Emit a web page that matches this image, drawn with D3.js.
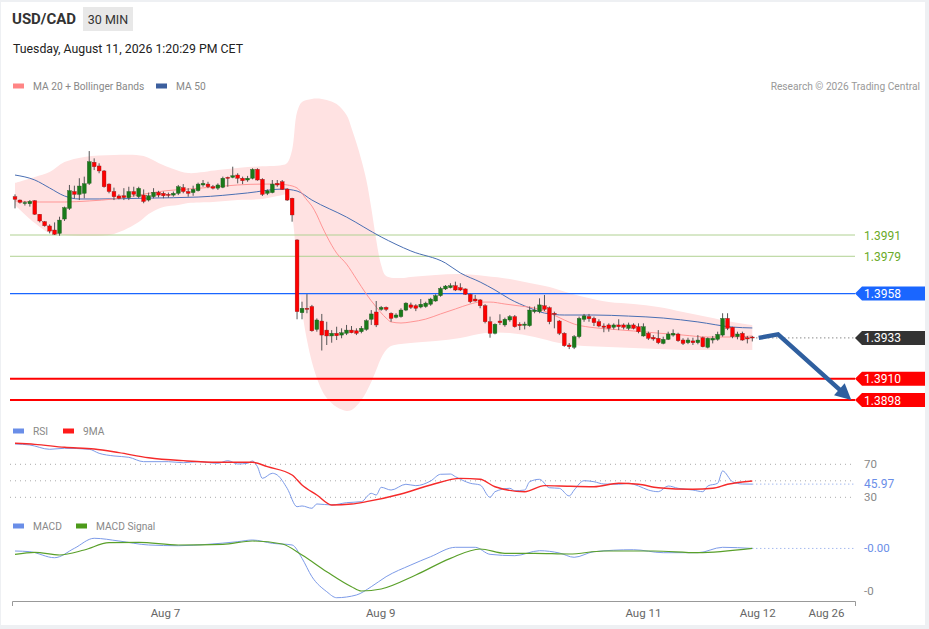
<!DOCTYPE html>
<html>
<head>
<meta charset="utf-8">
<script src="https://cdn.jsdelivr.net/npm/d3@7"></script>
<style>
  body { margin: 0; background: #eef0f3; }
  svg { display: block; }
</style>
</head>
<body>
<svg id="chart" width="929" height="629"></svg>
<script>
// 30 min candles, [open, high, low, close]
const candles = [
  [1.40126,1.40139,1.40060,1.40111],[1.40107,1.40110,1.40087,1.40094],[1.40090,1.40102,1.40076,1.40093],
  [1.40086,1.40107,1.40070,1.40099],[1.40103,1.40107,1.40023,1.40027],[1.40027,1.40028,1.39981,1.39989],
  [1.39985,1.39989,1.39957,1.39962],[1.39961,1.39970,1.39919,1.39932],[1.39938,1.39981,1.39910,1.39914],
  [1.39919,1.40013,1.39906,1.39994],[1.40000,1.40070,1.39989,1.40064],[1.40060,1.40192,1.40051,1.40160],
  [1.40155,1.40188,1.40117,1.40139],[1.40139,1.40230,1.40107,1.40186],[1.40145,1.40239,1.40117,1.40199],
  [1.40201,1.40383,1.40192,1.40323],[1.40320,1.40342,1.40276,1.40295],[1.40299,1.40314,1.40258,1.40271],
  [1.40271,1.40276,1.40177,1.40182],[1.40197,1.40201,1.40145,1.40155],[1.40155,1.40177,1.40107,1.40126],
  [1.40130,1.40139,1.40111,1.40117],[1.40131,1.40174,1.40107,1.40122],[1.40120,1.40182,1.40107,1.40155],
  [1.40155,1.40182,1.40126,1.40139],[1.40126,1.40182,1.40117,1.40173],[1.40135,1.40167,1.40089,1.40099],
  [1.40107,1.40149,1.40099,1.40131],[1.40126,1.40174,1.40117,1.40151],[1.40151,1.40159,1.40122,1.40135],
  [1.40145,1.40155,1.40117,1.40131],[1.40139,1.40149,1.40120,1.40135],[1.40135,1.40155,1.40126,1.40145],
  [1.40145,1.40192,1.40135,1.40182],[1.40177,1.40197,1.40145,1.40155],[1.40155,1.40174,1.40126,1.40145],
  [1.40149,1.40188,1.40131,1.40167],[1.40160,1.40205,1.40155,1.40197],[1.40192,1.40220,1.40182,1.40201],
  [1.40197,1.40210,1.40174,1.40182],[1.40182,1.40192,1.40167,1.40174],[1.40174,1.40201,1.40164,1.40192],
  [1.40179,1.40239,1.40174,1.40230],[1.40235,1.40239,1.40182,1.40230],[1.40235,1.40295,1.40230,1.40244],
  [1.40248,1.40258,1.40201,1.40230],[1.40230,1.40239,1.40197,1.40216],[1.40220,1.40243,1.40210,1.40230],
  [1.40230,1.40286,1.40224,1.40280],[1.40280,1.40286,1.40216,1.40220],[1.40224,1.40230,1.40130,1.40139],
  [1.40145,1.40167,1.40135,1.40159],[1.40149,1.40220,1.40145,1.40197],[1.40201,1.40220,1.40182,1.40192],
  [1.40210,1.40220,1.40164,1.40167],[1.40169,1.40174,1.40102,1.40107],[1.40117,1.40120,1.39985,1.40023],
  [1.39882,1.39886,1.39435,1.39478],[1.39472,1.39534,1.39435,1.39497],[1.39497,1.39577,1.39469,1.39491],
  [1.39507,1.39516,1.39365,1.39370],[1.39378,1.39440,1.39365,1.39431],[1.39425,1.39465,1.39259,1.39346],
  [1.39374,1.39421,1.39290,1.39341],[1.39341,1.39374,1.39303,1.39356],[1.39356,1.39393,1.39318,1.39342],
  [1.39346,1.39384,1.39328,1.39359],[1.39356,1.39403,1.39346,1.39374],[1.39374,1.39397,1.39356,1.39359],
  [1.39370,1.39384,1.39346,1.39356],[1.39365,1.39397,1.39356,1.39384],[1.39378,1.39435,1.39370,1.39427],
  [1.39435,1.39487,1.39403,1.39465],[1.39476,1.39538,1.39391,1.39403],[1.39491,1.39510,1.39483,1.39502],
  [1.39502,1.39507,1.39481,1.39491],[1.39469,1.39474,1.39421,1.39440],[1.39446,1.39469,1.39440,1.39459],
  [1.39450,1.39497,1.39444,1.39487],[1.39487,1.39531,1.39481,1.39526],[1.39516,1.39529,1.39493,1.39502],
  [1.39511,1.39520,1.39481,1.39497],[1.39504,1.39549,1.39497,1.39520],[1.39507,1.39534,1.39500,1.39526],
  [1.39520,1.39556,1.39511,1.39549],[1.39538,1.39576,1.39534,1.39568],[1.39568,1.39618,1.39562,1.39609],
  [1.39606,1.39628,1.39600,1.39622],[1.39613,1.39638,1.39609,1.39624],[1.39624,1.39647,1.39594,1.39600],
  [1.39613,1.39638,1.39594,1.39600],[1.39606,1.39609,1.39572,1.39576],[1.39576,1.39581,1.39526,1.39534],
  [1.39549,1.39572,1.39534,1.39538],[1.39544,1.39549,1.39497,1.39511],[1.39511,1.39520,1.39412,1.39421],
  [1.39421,1.39450,1.39331,1.39356],[1.39356,1.39412,1.39350,1.39407],[1.39425,1.39463,1.39403,1.39416],
  [1.39403,1.39444,1.39393,1.39435],[1.39431,1.39459,1.39421,1.39450],[1.39450,1.39459,1.39388,1.39393],
  [1.39407,1.39418,1.39374,1.39399],[1.39401,1.39421,1.39378,1.39408],[1.39399,1.39507,1.39393,1.39487],
  [1.39478,1.39507,1.39469,1.39487],[1.39478,1.39553,1.39469,1.39516],[1.39511,1.39572,1.39481,1.39491],
  [1.39500,1.39507,1.39407,1.39421],[1.39469,1.39478,1.39384,1.39463],[1.39425,1.39431,1.39346,1.39356],
  [1.39356,1.39362,1.39280,1.39286],[1.39290,1.39301,1.39267,1.39280],[1.39277,1.39346,1.39267,1.39337],
  [1.39337,1.39450,1.39328,1.39440],[1.39435,1.39465,1.39421,1.39454],[1.39450,1.39465,1.39421,1.39438],
  [1.39440,1.39450,1.39397,1.39416],[1.39421,1.39435,1.39390,1.39397],[1.39397,1.39412,1.39362,1.39390],
  [1.39403,1.39412,1.39365,1.39384],[1.39390,1.39412,1.39378,1.39403],[1.39403,1.39435,1.39374,1.39393],
  [1.39403,1.39412,1.39378,1.39390],[1.39384,1.39416,1.39374,1.39403],[1.39403,1.39412,1.39378,1.39384],
  [1.39393,1.39412,1.39356,1.39365],[1.39341,1.39412,1.39337,1.39393],[1.39356,1.39365,1.39318,1.39328],
  [1.39333,1.39346,1.39314,1.39324],[1.39328,1.39374,1.39295,1.39303],[1.39299,1.39337,1.39294,1.39322],
  [1.39322,1.39365,1.39318,1.39352],[1.39346,1.39378,1.39337,1.39356],[1.39352,1.39359,1.39308,1.39314],
  [1.39318,1.39328,1.39290,1.39299],[1.39303,1.39331,1.39295,1.39318],[1.39313,1.39331,1.39290,1.39303],
  [1.39303,1.39346,1.39294,1.39318],[1.39331,1.39337,1.39277,1.39280],[1.39277,1.39333,1.39271,1.39328],
  [1.39318,1.39341,1.39299,1.39328],[1.39322,1.39365,1.39314,1.39350],[1.39346,1.39469,1.39337,1.39440],
  [1.39440,1.39469,1.39374,1.39384],[1.39390,1.39393,1.39328,1.39337],[1.39337,1.39365,1.39322,1.39352],
  [1.39356,1.39365,1.39314,1.39318],[1.39331,1.39341,1.39299,1.39324],[1.39335,1.39341,1.39310,1.39330]
];

// indicator readings, [candle index, value]
const bbUpper = [[0,1.40203],[4,1.40237],[7,1.40265],[10,1.40321],[14,1.40350],[20,1.40361],[26,1.40355],[29,1.40316],[32,1.40282],[35,1.40259],[41,1.40276],[47,1.40293],[54,1.40304],[55,1.40316],[56,1.40389],[57,1.40603],[58,1.40660],[60,1.40677],[62,1.40677],[63,1.40671],[65,1.40648],[67,1.40586],[68,1.40513],[69,1.40428],[70,1.40333],[71,1.40220],[72,1.40062],[73,1.39882],[74,1.39741],[75,1.39679],[78,1.39667],[80,1.39673],[85,1.39684],[90,1.39690],[95,1.39679],[100,1.39662],[104,1.39639],[108,1.39617],[110,1.39600],[112,1.39583],[115,1.39560],[120,1.39532],[125,1.39521],[130,1.39504],[135,1.39476],[140,1.39448],[145,1.39419],[149,1.39402]];
const bbLower = [[0,1.40079],[4,1.39977],[7,1.39921],[10,1.39910],[15,1.39904],[20,1.39916],[25,1.39983],[27,1.40028],[30,1.40068],[33,1.40079],[35,1.40090],[40,1.40096],[45,1.40107],[50,1.40113],[53,1.40130],[55,1.40135],[56,1.40023],[57,1.39741],[58,1.39487],[59,1.39318],[60,1.39194],[61,1.39104],[62,1.39036],[63,1.38991],[65,1.38940],[67,1.38918],[68,1.38924],[69,1.38946],[70,1.38980],[71,1.39025],[72,1.39081],[73,1.39149],[74,1.39217],[75,1.39262],[76,1.39284],[78,1.39295],[80,1.39301],[85,1.39312],[90,1.39329],[95,1.39357],[100,1.39357],[105,1.39335],[110,1.39301],[115,1.39284],[120,1.39279],[125,1.39273],[130,1.39267],[135,1.39262],[140,1.39262],[145,1.39262],[149,1.39262]];
const ma20 = [[0,1.40102],[5,1.40096],[10,1.40096],[15,1.40102],[20,1.40113],[25,1.40135],[30,1.40158],[35,1.40169],[40,1.40180],[45,1.40192],[50,1.40197],[53,1.40197],[55,1.40192],[57,1.40175],[59,1.40107],[60,1.40073],[61,1.40023],[62,1.39961],[63,1.39904],[65,1.39808],[67,1.39746],[69,1.39662],[71,1.39577],[73,1.39504],[75,1.39442],[76,1.39420],[78,1.39414],[80,1.39420],[83,1.39436],[86,1.39465],[89,1.39493],[92,1.39521],[94,1.39532],[96,1.39532],[99,1.39521],[102,1.39510],[105,1.39498],[108,1.39470],[111,1.39431],[113,1.39408],[116,1.39391],[120,1.39380],[125,1.39369],[130,1.39357],[135,1.39346],[140,1.39335],[145,1.39335],[149,1.39341]];
const ma50 = [[0,1.40248],[4,1.40220],[7,1.40175],[10,1.40130],[13,1.40113],[17,1.40113],[27,1.40118],[37,1.40124],[47,1.40147],[54,1.40169],[57,1.40158],[60,1.40107],[67,1.40011],[74,1.39899],[80,1.39820],[87,1.39752],[90,1.39696],[94,1.39645],[97,1.39600],[100,1.39549],[104,1.39499],[107,1.39470],[111,1.39459],[117,1.39459],[124,1.39453],[131,1.39442],[138,1.39420],[145,1.39391],[149,1.39386]];

const rsi = [[0,94.6],[3,93.4],[7,88.2],[10,89.4],[15,88.2],[17,83.3],[20,80.1],[23,78.5],[26,73.2],[31,73.2],[34,71.9],[37,73.2],[41,71.2],[43,74.4],[45,70.4],[47,71.2],[48,74.0],[49,67.1],[50,53.0],[52,59.1],[53,57.0],[55,40.9],[57,18.6],[58,19.5],[60,16.7],[61,21.9],[64,20.7],[67,23.5],[70,24.7],[72,34.8],[73,32.8],[74,42.1],[76,38.8],[79,45.8],[81,44.1],[84,49.8],[86,57.9],[88,58.2],[89,55.0],[92,47.0],[94,44.9],[96,30.0],[97,36.8],[100,40.9],[101,38.0],[103,38.8],[104,48.9],[106,51.8],[108,41.6],[110,40.9],[112,31.6],[113,38.8],[115,50.1],[117,48.9],[119,46.1],[122,45.8],[124,47.0],[126,43.7],[128,38.8],[130,36.8],[132,43.7],[134,40.9],[137,38.8],[139,36.8],[140,43.7],[142,47.0],[143,61.9],[145,48.9],[147,46.1],[149,45.97]];
const rsiMa9 = [[0,95.5],[4,94.2],[10,90.6],[16,88.5],[21,84.1],[27,78.0],[34,74.4],[41,72.4],[48,72.4],[51,67.1],[56,57.0],[58,44.9],[61,32.8],[64,20.7],[68,21.9],[71,24.7],[78,34.0],[84,44.9],[90,53.0],[94,51.8],[97,42.8],[103,36.8],[107,44.1],[110,43.7],[117,42.8],[122,47.0],[126,45.8],[130,41.6],[137,39.7],[141,40.9],[144,45.8],[149,49.8]];
const macd = [[0,-0.00007],[3,-0.000086],[8,-0.000226],[12,-0.000007],[16,0.000226],[21,0.000163],[27,0.00007],[33,0.000053],[39,0.000086],[45,0.000147],[48,0.000186],[52,0.000109],[56,0.00007],[58,-0.00024],[60,-0.000667],[63,-0.001016],[65,-0.001156],[69,-0.001093],[72,-0.0009],[75,-0.000667],[80,-0.000395],[84,-0.000202],[89,0.000016],[93,0.000016],[96,-0.000147],[101,-0.000179],[106,-0.000063],[110,-0.000116],[113,-0.000216],[117,-0.000086],[125,-0.00004],[131,-0.000109],[138,-0.000109],[143,0.000016],[149,-0.00001]];
const macdSignal = [[0,-0.000147],[4,-0.0001],[9,-0.000163],[14,-0.000047],[19,0.000123],[25,0.000133],[33,0.00007],[42,0.000086],[48,0.000163],[54,0.000093],[58,-0.000163],[63,-0.000551],[68,-0.0009],[70,-0.001],[74,-0.000953],[81,-0.000628],[88,-0.00024],[94,-0.000023],[99,-0.000123],[105,-0.000123],[112,-0.00014],[119,-0.00007],[129,-0.00007],[138,-0.000109],[149,-0.00001]];

const resistLevels = [1.3991, 1.3979];
const pivotLevel = 1.3958;
const supportLevels = [1.3910, 1.3898];
const lastPrice = 1.3933;
const arrowPath = [[150.3, 1.3933], [154.2, 1.3935], [169.0, 1.3898]];
const rsiGuides = [70, 50, 30];
const rsiAxisLabels = [70, 30];
const macdAxisLabels = [-0.001];
const dateTicks = [30.3, 73.8, 126.9, 150, 163.9];
const dateLabels = ["Aug 7", "Aug 9", "Aug 11", "Aug 12", "Aug 26"];

const font = "Roboto, 'Liberation Sans', Arial, sans-serif";
const svg = d3.select("#chart").attr("font-family", font);

// card
svg.append("rect").attr("x", 1).attr("y", 2).attr("width", 924).attr("height", 623).attr("fill", "#fff");

// header
svg.append("text").attr("x", 12).attr("y", 24).attr("font-size", 15).attr("font-weight", "bold")
  .attr("fill", "#333").text("USD/CAD");
svg.append("rect").attr("x", 83).attr("y", 7).attr("width", 50).attr("height", 24).attr("fill", "#e8e8e8");
svg.append("text").attr("x", 108).attr("y", 23.5).attr("text-anchor", "middle").attr("font-size", 12.5)
  .attr("fill", "#333").text("30 MIN");
svg.append("text").attr("x", 13).attr("y", 53).attr("font-size", 12.3).attr("fill", "#222")
  .text("Tuesday, August 11, 2026 1:20:29 PM CET");

function legendItem(x0, yc, color, label) {
  svg.append("rect").attr("x", x0).attr("y", yc - 2.5).attr("width", 11).attr("height", 5).attr("fill", color);
  svg.append("text").attr("x", x0 + 20).attr("y", yc + 3.6).attr("font-size", 10.2).attr("fill", "#888").text(label);
}
legendItem(13, 86, "#ff8585", "MA 20 + Bollinger Bands");
legendItem(156, 86, "#3c5f9e", "MA 50");
svg.append("text").attr("x", 920).attr("y", 89.6).attr("text-anchor", "end").attr("font-size", 10.2)
  .attr("fill", "#999").text("Research \u00a9 2026 Trading Central");

// scales
let x = d3.scaleLinear().domain([0, 149]).range([15, 752.3]);
let y = d3.scaleLinear().domain([1.3898, 1.3991]).range([400, 235]);
let yRsi = d3.scaleLinear().domain([30, 70]).range([497.3, 464.3]);
let yMacd = d3.scaleLinear().domain([-0.001, 0]).range([591, 548]);
const left = 10, right = 855;

// bollinger band
let edge = d3.line().x(d => x(d[0])).y(d => y(d[1])).curve(d3.curveCatmullRom.alpha(0.5));
let bandD = edge(bbUpper) + "L" + edge(bbLower.slice().reverse()).substring(1) + "Z";
svg.append("path").attr("d", bandD).attr("fill", "#ffe2e2");

// level lines
let levels = svg.append("g");
resistLevels.forEach(v => {
  levels.append("line").attr("x1", left).attr("x2", right).attr("y1", y(v)).attr("y2", y(v))
    .attr("stroke", "#b0d192").attr("stroke-width", 1);
  levels.append("text").attr("x", 864).attr("y", y(v) + 4.5).attr("font-size", 12)
    .attr("fill", "#6aaa28").text(v.toFixed(4));
});
levels.append("line").attr("x1", left).attr("x2", right).attr("y1", y(pivotLevel)).attr("y2", y(pivotLevel))
  .attr("stroke", "#1a66ff").attr("stroke-width", 1.3);
supportLevels.forEach(v => {
  levels.append("line").attr("x1", left).attr("x2", right).attr("y1", y(v)).attr("y2", y(v))
    .attr("stroke", "#ff0000").attr("stroke-width", 2);
});

// moving averages
let maLine = d3.line().x(d => x(d[0])).y(d => y(d[1])).curve(d3.curveMonotoneX);
svg.append("path").attr("d", maLine(ma50)).attr("fill", "none").attr("stroke", "#4a6fb3").attr("stroke-width", 1);
svg.append("path").attr("d", maLine(ma20)).attr("fill", "none").attr("stroke", "#ff9595").attr("stroke-width", 1);

// candles
let cg = svg.append("g");
candles.forEach((c, i) => {
  const [o, h, l, cl] = c;
  const up = cl >= o;
  cg.append("line").attr("x1", x(i)).attr("x2", x(i)).attr("y1", y(h)).attr("y2", y(l))
    .attr("stroke", "#555").attr("stroke-width", 1);
  const top = y(Math.max(o, cl)), bot = y(Math.min(o, cl));
  cg.append("rect").attr("x", x(i) - 1.9).attr("width", 3.8)
    .attr("y", top).attr("height", Math.max(1, bot - top))
    .attr("fill", up ? "#197a19" : "#ff0000")
    .attr("stroke", up ? "#245a24" : "#8a2020").attr("stroke-width", 0.4);
});

// last price dotted line
svg.append("line").attr("x1", x(149) + 4).attr("x2", right).attr("y1", y(lastPrice)).attr("y2", y(lastPrice))
  .attr("stroke", "#555").attr("stroke-width", 1).attr("stroke-dasharray", "1,3");

// forecast arrow
{
  const p = arrowPath.map(d => [x(d[0]), y(d[1])]);
  const [x1, y1] = p[1], [x2, y2] = p[2];
  const ang = Math.atan2(y2 - y1, x2 - x1);
  const hl = 16, hw = 8;
  const bx = x2 - hl * Math.cos(ang), by = y2 - hl * Math.sin(ang);
  const shaft = d3.line()([p[0], p[1], [bx + 3 * Math.cos(ang), by + 3 * Math.sin(ang)]]);
  svg.append("path").attr("d", shaft).attr("fill", "none").attr("stroke", "#2f5f9f")
    .attr("stroke-width", 4.5).attr("stroke-linejoin", "miter");
  svg.append("path")
    .attr("d", `M${x2},${y2}L${bx + hw * Math.sin(ang)},${by - hw * Math.cos(ang)}L${bx - hw * Math.sin(ang)},${by + hw * Math.cos(ang)}Z`)
    .attr("fill", "#2f5f9f");
}

// right-side tags
function tag(v, fill) {
  const yy = y(v);
  svg.append("path").attr("d", `M855,${yy}L862,${yy - 7}H925V${yy + 7}H862Z`).attr("fill", fill);
  svg.append("text").attr("x", 864).attr("y", yy + 4.5).attr("font-size", 12).attr("fill", "#fff").text(v.toFixed(4));
}
tag(pivotLevel, "#1a66ff");
tag(lastPrice, "#333333");
supportLevels.forEach(v => tag(v, "#ff0000"));

// RSI panel
legendItem(13, 431, "#6a8ee8", "RSI");
legendItem(63, 431, "#ff1a1a", "9MA");
rsiGuides.forEach(v => {
  svg.append("line").attr("x1", left).attr("x2", right).attr("y1", yRsi(v)).attr("y2", yRsi(v))
    .attr("stroke", "#aaa").attr("stroke-width", 1).attr("stroke-dasharray", "1,4");
});
rsiAxisLabels.forEach(v => {
  svg.append("text").attr("x", 864).attr("y", yRsi(v) + 4).attr("font-size", 11.5).attr("fill", "#888").text(v);
});
let rsiLine = d3.line().x(d => x(d[0])).y(d => yRsi(d[1])).curve(d3.curveMonotoneX);
svg.append("path").attr("d", rsiLine(rsi)).attr("fill", "none").attr("stroke", "#7d9be8").attr("stroke-width", 1);
svg.append("path").attr("d", rsiLine(rsiMa9)).attr("fill", "none").attr("stroke", "#f52a2a").attr("stroke-width", 1.4);
const rsiLast = rsi[rsi.length - 1][1];
svg.append("line").attr("x1", x(149)).attr("x2", right).attr("y1", yRsi(rsiLast)).attr("y2", yRsi(rsiLast))
  .attr("stroke", "#7d9be8").attr("stroke-dasharray", "1,3");
svg.append("text").attr("x", 864).attr("y", yRsi(rsiLast) + 4).attr("font-size", 12)
  .attr("fill", "#6a8ee8").text(rsiLast.toFixed(2));

// MACD panel
legendItem(13, 526, "#6a8ee8", "MACD");
legendItem(76, 526, "#4c9a1a", "MACD Signal");
let macdLine = d3.line().x(d => x(d[0])).y(d => yMacd(d[1])).curve(d3.curveMonotoneX);
svg.append("path").attr("d", macdLine(macd)).attr("fill", "none").attr("stroke", "#7d9be8").attr("stroke-width", 1);
svg.append("path").attr("d", macdLine(macdSignal)).attr("fill", "none").attr("stroke", "#5aa02a").attr("stroke-width", 1.2);
const macdLast = macd[macd.length - 1][1];
svg.append("line").attr("x1", x(149)).attr("x2", right).attr("y1", yMacd(macdLast)).attr("y2", yMacd(macdLast))
  .attr("stroke", "#7d9be8").attr("stroke-dasharray", "1,3");
svg.append("text").attr("x", 864).attr("y", yMacd(macdLast) + 4).attr("font-size", 11.5)
  .attr("fill", "#6a8ee8").text(macdLast.toFixed(2));
macdAxisLabels.forEach(v => {
  svg.append("text").attr("x", 864).attr("y", yMacd(v) + 4).attr("font-size", 11.5).attr("fill", "#888").text(v.toFixed(0));
});

// time axis
let xAxisScale = d3.scaleLinear().domain([x.invert(12), x.invert(855)]).range([12, 855]);
let axisG = svg.append("g").attr("transform", "translate(0,601)")
  .call(d3.axisBottom(xAxisScale).tickValues(dateTicks).tickFormat((d, i) => dateLabels[i])
    .tickSizeInner(0).tickSizeOuter(5).tickPadding(8));
axisG.attr("font-family", font).attr("font-size", 11.5);
axisG.select(".domain").attr("stroke", "#999");
axisG.selectAll("text").attr("fill", "#666");
</script>
</body>
</html>
